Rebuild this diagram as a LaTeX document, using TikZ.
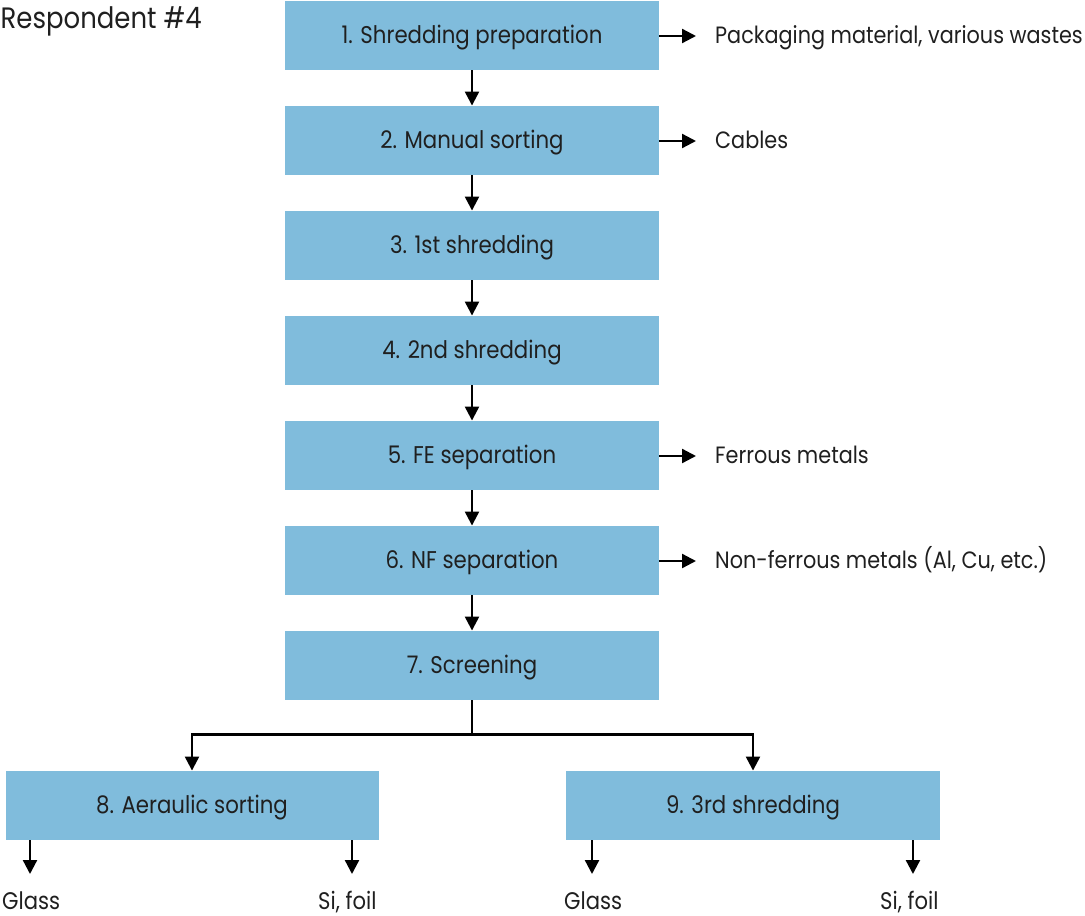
\documentclass[tikz,border=0pt]{standalone}
\usepackage{fontspec}
\setmainfont{Poppins}[FakeStretch=0.88]
\usetikzlibrary{arrows.meta}
\definecolor{boxblue}{RGB}{128,188,220}
\begin{document}
\begin{tikzpicture}[x=1pt,y=-1pt,
  procbox/.style={fill=boxblue, draw=none, minimum width=374pt, minimum height=69.5pt,
    inner sep=0pt, text height=16pt, text depth=0pt,
    font=\fontsize{24.2}{28}\selectfont, text=black!88},
  flow/.style={line width=2.3pt, -{Triangle[length=14pt,width=14pt]}},
  plainline/.style={line width=2.3pt},
  outlabel/.style={anchor=base west, inner sep=0pt, font=\fontsize{23.6}{28}\selectfont, text=black!88},
  endlabel/.style={anchor=base west, inner sep=0pt, font=\fontsize{24}{28}\selectfont, text=black!88},
]
\useasboundingbox (0,0) rectangle (1085,916);
\node[anchor=base west, inner sep=0pt, font=\fontsize{29.5}{34}\selectfont, text=black!88] (title) at (0.5,28.5) {Respondent \#4};

\node[procbox] (b1) at (472,35.5) {1. Shredding preparation};
\node[procbox] (b2) at (472,140.5) {2. Manual sorting};
\node[procbox] (b3) at (472,245.5) {3. 1st shredding};
\node[procbox] (b4) at (472,350.5) {4. 2nd shredding};
\node[procbox] (b5) at (472,455.5) {5. FE separation};
\node[procbox] (b6) at (472,560.5) {6. NF separation};
\node[procbox] (b7) at (472,665.5) {7. Screening};
\node[procbox, minimum width=373pt] (b8) at (192,805.5) {8. Aeraulic sorting};
\node[procbox] (b9) at (753,805.5) {9. 3rd shredding};

\draw[flow] (b1) -- (b2);
\draw[flow] (b2) -- (b3);
\draw[flow] (b3) -- (b4);
\draw[flow] (b4) -- (b5);
\draw[flow] (b5) -- (b6);
\draw[flow] (b6) -- (b7);

\coordinate (split) at (472,734.5);
\draw[plainline] (b7.south) -- (split);
\draw[flow] (split) -| (b8.north);
\draw[flow] (split) -| (b9.north);

% side outputs
\node[outlabel] (o1) at (715,43.5) {Packaging material, various wastes};
\node[outlabel] (o2) at (715,148.5) {Cables};
\node[outlabel] (o5) at (715,463.5) {Ferrous metals};
\node[outlabel] (o6) at (715,568.5) {Non-ferrous metals (Al, Cu, etc.)};
\coordinate (t1) at (696,36);
\coordinate (t2) at (696,141);
\coordinate (t5) at (696,456);
\coordinate (t6) at (696,561);
\draw[flow] (b1.east |- t1) -- (t1);
\draw[flow] (b2.east |- t2) -- (t2);
\draw[flow] (b5.east |- t5) -- (t5);
\draw[flow] (b6.east |- t6) -- (t6);

% bottom outputs
\node[endlabel] (g1) at (2,909) {Glass};
\node[endlabel] (s1) at (318,909) {Si, foil};
\node[endlabel] (g2) at (564,909) {Glass};
\node[endlabel] (s2) at (880,909) {Si, foil};
\coordinate (e1) at (30,874);
\coordinate (e2) at (352,874);
\coordinate (e3) at (592,874);
\coordinate (e4) at (913,874);
\draw[flow] (b8.south -| e1) -- (e1);
\draw[flow] (b8.south -| e2) -- (e2);
\draw[flow] (b9.south -| e3) -- (e3);
\draw[flow] (b9.south -| e4) -- (e4);
\end{tikzpicture}
\end{document}
